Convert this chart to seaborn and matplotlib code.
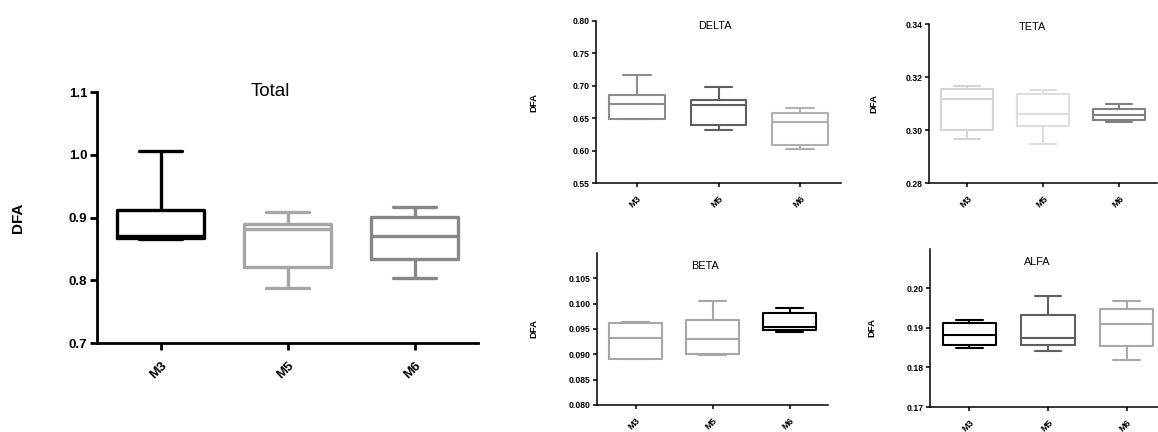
import matplotlib
matplotlib.use("Agg")
import matplotlib.pyplot as plt
import seaborn as sns
import pandas as pd

categories = ["M3", "M5", "M6"]

# five-number summaries per group: min, q1, median, q3, max
total_m3 = [0.866, 0.867, 0.870, 0.912, 1.006]
total_m5 = [0.788, 0.821, 0.881, 0.890, 0.909]
total_m6 = [0.804, 0.834, 0.870, 0.901, 0.917]

delta_m3 = [0.648, 0.649, 0.672, 0.686, 0.717]
delta_m5 = [0.632, 0.640, 0.670, 0.678, 0.698]
delta_m6 = [0.602, 0.608, 0.644, 0.658, 0.6655]

teta_m3 = [0.2966, 0.3001, 0.3117, 0.3155, 0.3165]
teta_m5 = [0.2947, 0.3014, 0.3060, 0.3136, 0.3152]
teta_m6 = [0.3029, 0.3038, 0.3057, 0.3080, 0.3097]

beta_m3 = [0.0890, 0.0891, 0.0933, 0.0961, 0.0964]
beta_m5 = [0.0898, 0.0901, 0.0930, 0.0968, 0.1005]
beta_m6 = [0.0945, 0.0949, 0.0954, 0.0981, 0.0991]

alfa_m3 = [0.1850, 0.1856, 0.1881, 0.1912, 0.1920]
alfa_m5 = [0.1841, 0.1856, 0.1873, 0.1932, 0.1981]
alfa_m6 = [0.1819, 0.1853, 0.1910, 0.1947, 0.1967]

titles = ["Total", "DELTA", "TETA", "BETA", "ALFA"]
y_label = "DFA"

total_colors = ["#000000", "#a6a6a8", "#878787"]
delta_colors = ["#8c8c8c", "#5f5f5f", "#b0b0b0"]
teta_colors = ["#d4d4d4", "#dedede", "#808080"]
beta_colors = ["#a6a6a6", "#a6a6a6", "#000000"]
alfa_colors = ["#000000", "#5f5f5f", "#a8a8a8"]

total_yticks = [0.7, 0.8, 0.9, 1.0, 1.1]
delta_yticks = [0.55, 0.60, 0.65, 0.70, 0.75, 0.80]
teta_yticks = [0.28, 0.30, 0.32, 0.34]
beta_yticks = [0.080, 0.085, 0.090, 0.095, 0.100, 0.105]
alfa_yticks = [0.17, 0.18, 0.19, 0.20]

sns.set_style("ticks")
plt.rcParams["font.family"] = ["Liberation Sans", "DejaVu Sans"]
plt.rcParams["text.color"] = "black"
plt.rcParams["axes.labelcolor"] = "black"
plt.rcParams["xtick.color"] = "black"
plt.rcParams["ytick.color"] = "black"

W, H = 1158, 432
fig = plt.figure(figsize=(W / 100, H / 100), dpi=100)


def make_axes(left, right, top, bottom):
    return fig.add_axes([left / W, 1 - bottom / H, (right - left) / W, (bottom - top) / H])


def draw(ax, groups, colors, ylim, yticks, fmt, title, title_xy, big, ylab_x):
    rows = []
    for cat, vals in zip(categories, groups):
        for v in vals:
            rows.append({"group": cat, "value": v})
    df = pd.DataFrame(rows)
    lw = 2.4 if big else 1.5
    sns.boxplot(data=df, x="group", y="value", hue="group", order=categories,
                hue_order=categories, palette=colors, fill=False, whis=(0, 100),
                width=0.68, linewidth=lw, legend=False, ax=ax, showfliers=False)
    ax.set_xlim(-0.5, 2.5)
    ax.set_ylim(*ylim)
    ax.set_yticks(yticks)
    ax.set_yticklabels([fmt % t for t in yticks])
    ax.set_xlabel("")
    sns.despine(ax=ax)
    slw = 2.0 if big else 1.1
    for s in ["left", "bottom"]:
        ax.spines[s].set_linewidth(slw)
        ax.spines[s].set_color("black")
    fs = 9.5 if big else 6.2
    tl = 5 if big else 3
    ax.tick_params(axis="both", width=slw, length=tl, color="black",
                   labelcolor="black", labelsize=fs, pad=2 if big else 1.5)
    ax.set_xticks(range(len(categories)))
    ax.set_xticklabels(categories, rotation=45, ha="right", va="top",
                       rotation_mode="anchor", fontweight="bold")
    ax.tick_params(axis="x", labelsize=9.5 if big else 6.6)
    for lab in ax.get_yticklabels():
        lab.set_fontweight("bold")
    ax.tick_params(axis="x", pad=7 if big else 5)
    ax.set_ylabel(y_label, fontweight="bold", fontsize=11 if big else 6.8,
                  color="black")
    ax.yaxis.set_label_coords(ylab_x, 0.5)
    ax.text(title_xy[0], title_xy[1], title, transform=ax.transAxes,
            ha="center", va="center", fontsize=13.5 if big else 7.8, color="black")


ax_total = make_axes(97, 478, 92, 343)
draw(ax_total, [total_m3, total_m5, total_m6], total_colors, (0.7, 1.1),
     total_yticks, "%.1f", titles[0], (0.454, 1.0), True, -0.19)

ax_delta = make_axes(596, 841, 21, 183)
draw(ax_delta, [delta_m3, delta_m5, delta_m6], delta_colors, (0.55, 0.80),
     delta_yticks, "%.2f", titles[1], (0.486, 0.97), False, -0.237)

ax_teta = make_axes(929, 1157, 24, 183)
draw(ax_teta, [teta_m3, teta_m5, teta_m6], teta_colors, (0.28, 0.34),
     teta_yticks, "%.2f", titles[2], (0.454, 0.98), False, -0.223)

ax_beta = make_axes(597, 828, 253, 405)
draw(ax_beta, [beta_m3, beta_m5, beta_m6], beta_colors, (0.080, 0.110),
     beta_yticks, "%.3f", titles[3], (0.467, 0.915), False, -0.255)

ax_alfa = make_axes(930, 1166, 248.6, 407)
draw(ax_alfa, [alfa_m3, alfa_m5, alfa_m6], alfa_colors, (0.17, 0.21),
     alfa_yticks, "%.2f", titles[4], (0.453, 0.915), False, -0.229)

fig.savefig("out.png", dpi=100)
